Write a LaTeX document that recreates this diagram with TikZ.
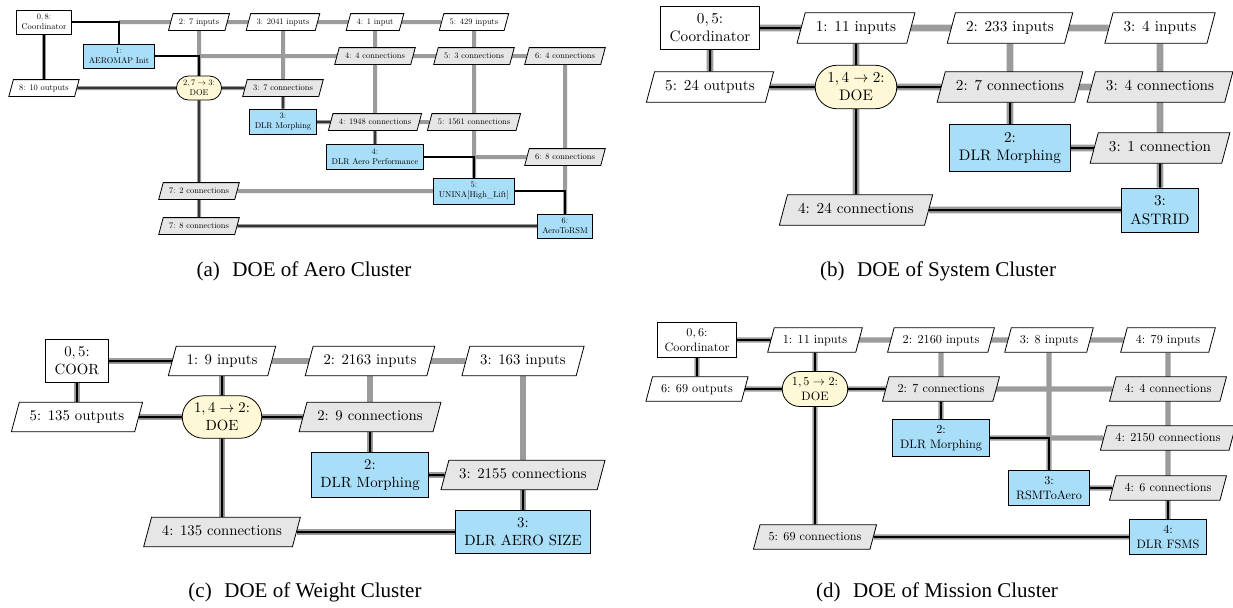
\documentclass[tikz,border=0pt]{standalone}
\usepackage{fontspec}
\setmainfont{lmroman10-regular.otf}[BoldFont=lmroman10-bold.otf, ItalicFont=lmroman10-italic.otf]
\newfontfamily\capfont{Liberation Serif}
\DeclareFontShape{OT1}{cmr}{m}{n}{<->cmr10}{}
\DeclareFontShape{OML}{cmm}{m}{it}{<->cmmi10}{}
\DeclareFontShape{OMS}{cmsy}{m}{n}{<->cmsy10}{}
\usetikzlibrary{shapes.geometric,shapes.misc,backgrounds}
\definecolor{fnblue}{RGB}{168,222,248}
\definecolor{doeyel}{RGB}{255,248,214}
\definecolor{linkgray}{RGB}{230,230,230}
\definecolor{datagray}{RGB}{155,155,155}
\begin{document}
\begin{tikzpicture}[x=0.5pt, y=-0.5pt,
    fnbox/.style={draw, fill=fnblue, align=center, inner xsep=0.6em, inner ysep=0.5em},
    coorbox/.style={draw, fill=white, align=center, inner xsep=0.6em, inner ysep=0.5em},
    doebox/.style={draw, fill=doeyel, align=center, rounded rectangle, inner xsep=0.45em, inner ysep=0.5em},
    iobox/.style={draw, fill=white, trapezium, trapezium left angle=75, trapezium right angle=105,
        inner xsep=0.7em, inner ysep=0.5em, text height=0.75em, text depth=0.25em},
    linkbox/.style={iobox, fill=linkgray},
    grayline/.style={draw=datagray, line width=3pt},
    blackline/.style={draw=black, line width=1pt},
    capnode/.style={font=\capfont\fontsize{10.5}{12}\selectfont}]
\useasboundingbox (0,0) rectangle (1233,607);

\begin{scope}[grayline/.append style={line width=2pt}, blackline/.append style={line width=0.6pt}]
\fontsize{4.2}{5}\selectfont
\node[coorbox] (aCoor) at (44,22) {$0,8$:\\Coordinator};
\node[iobox] (aIn2) at (199,22) {2: 7 inputs};
\node[iobox] (aIn3) at (283,22) {3: 2041 inputs};
\node[iobox] (aIn4) at (375,22) {4: 1 input};
\node[iobox] (aIn5) at (474,22) {5: 429 inputs};
\node[fnbox] (aInit) at (119,56) {1:\\AEROMAP Init};
\node[linkbox] (aC4r1) at (375,56) {4: 4 connections};
\node[linkbox] (aC5r1) at (474,56) {5: 3 connections};
\node[linkbox] (aC6r1) at (565,56) {6: 4 connections};
\node[iobox] (aOut) at (44,88) {8: 10 outputs};
\node[doebox] (aDoe) at (199,88) {$2,7 \to 3$:\\DOE};
\node[linkbox] (aC3r2) at (283,88) {3: 7 connections};
\node[fnbox] (aMorph) at (283,122) {3:\\DLR Morphing};
\node[linkbox] (aC4r3) at (375,122) {4: 1948 connections};
\node[linkbox] (aC5r3) at (474,122) {5: 1561 connections};
\node[fnbox] (aPerf) at (375,157) {4:\\DLR Aero Performance};
\node[linkbox] (aC6r4) at (565,157) {6: 8 connections};
\node[linkbox] (aC7r5) at (199,191) {7: 2 connections};
\node[fnbox] (aHigh) at (474,191) {5:\\UNINA[High\_Lift]};
\node[linkbox] (aC7r6) at (199,226) {7: 8 connections};
\node[fnbox] (aRsm) at (565,226) {6:\\AeroToRSM};
\node[capnode] (aCap) at (304,271) {(a)\hspace{0.6em}DOE of Aero Cluster};
\begin{pgfonlayer}{background}
\draw[grayline] (aInit |- aCoor) -- (aIn5);
\draw[grayline] (aDoe |- aInit) -- (aC6r1);
\draw[grayline] (aCoor) -- (aOut);
\draw[grayline] (aOut) -- (aC3r2);
\draw[grayline] (aMorph) -- (aC5r3);
\draw[grayline] (aHigh |- aPerf) -- (aC6r4);
\draw[grayline] (aC7r5) -- (aHigh);
\draw[grayline] (aC7r6) -- (aRsm);
\draw[grayline] (aIn2) -- (aC7r6);
\draw[grayline] (aIn3) -- (aMorph);
\draw[grayline] (aIn4) -- (aPerf);
\draw[grayline] (aIn5) -- (aHigh);
\draw[grayline] (aC6r1) -- (aRsm);
\draw[blackline] (aCoor) -| (aInit);
\draw[blackline] (aInit) -| (aDoe);
\draw[blackline] (aCoor) -- (aOut);
\draw[blackline] (aOut) -- (aDoe) -- (aC3r2) -- (aMorph);
\draw[blackline] (aMorph) -- (aC4r3) -- (aPerf);
\draw[blackline] (aPerf) -| (aHigh);
\draw[blackline] (aHigh) -| (aRsm);
\draw[blackline] (aDoe) -- (aC7r5) -- (aC7r6) -- (aRsm);
\end{pgfonlayer}
\end{scope}

\begin{scope}[grayline/.append style={line width=3.3pt}, blackline/.append style={line width=1pt}]
\fontsize{7.6}{9.1}\selectfont
\node[coorbox] (bCoor) at (710,28) {$0,5$:\\Coordinator};
\node[iobox] (bIn1) at (856,28) {1: 11 inputs};
\node[iobox] (bIn2) at (1010,28) {2: 233 inputs};
\node[iobox] (bIn3) at (1160,28) {3: 4 inputs};
\node[iobox] (bOut) at (710,87) {5: 24 outputs};
\node[doebox] (bDoe) at (856,87) {$1,4 \to 2$:\\DOE};
\node[linkbox] (bC2r1) at (1010,87) {2: 7 connections};
\node[linkbox] (bC3r1) at (1160,87) {3: 4 connections};
\node[fnbox] (bMorph) at (1010,148) {2:\\DLR Morphing};
\node[linkbox] (bC3r2) at (1160,148) {3: 1 connection};
\node[linkbox] (bC4r3) at (856,210) {4: 24 connections};
\node[fnbox] (bAst) at (1160,210) {3:\\ASTRID};
\node[capnode] (bCap) at (938,271) {(b)\hspace{0.6em}DOE of System Cluster};
\begin{pgfonlayer}{background}
\draw[grayline] (bCoor) -- (bIn3);
\draw[grayline] (bCoor) -- (bOut);
\draw[grayline] (bOut) -- (bC3r1);
\draw[grayline] (bIn1) -- (bC4r3);
\draw[grayline] (bIn2) -- (bMorph);
\draw[grayline] (bIn3) -- (bAst);
\draw[grayline] (bMorph) -- (bC3r2);
\draw[grayline] (bC4r3) -- (bAst);
\draw[blackline] (bCoor) -- (bIn1);
\draw[blackline] (bCoor) -- (bOut);
\draw[blackline] (bOut) -- (bDoe) -- (bC2r1) -- (bMorph);
\draw[blackline] (bIn1) -- (bDoe) -- (bC4r3) -- (bAst);
\draw[blackline] (bMorph) -- (bC3r2) -- (bAst);
\end{pgfonlayer}
\end{scope}

\begin{scope}[grayline/.append style={line width=2.9pt}, blackline/.append style={line width=1pt}]
\fontsize{7.4}{8.9}\selectfont
\node[coorbox] (cCoor) at (77,361) {$0,5$:\\COOR};
\node[iobox] (cIn1) at (222,361) {1: 9 inputs};
\node[iobox] (cIn2) at (370,361) {2: 2163 inputs};
\node[iobox] (cIn3) at (523,361) {3: 163 inputs};
\node[iobox] (cOut) at (77,417) {5: 135 outputs};
\node[doebox] (cDoe) at (222,417) {$1,4 \to 2$:\\DOE};
\node[linkbox] (cC2r1) at (370,417) {2: 9 connections};
\node[fnbox] (cMorph) at (370,475) {2:\\DLR Morphing};
\node[linkbox] (cC3r2) at (523,475) {3: 2155 connections};
\node[linkbox] (cC4r3) at (222,532) {4: 135 connections};
\node[fnbox] (cSize) at (523,532) {3:\\DLR AERO SIZE};
\node[capnode] (cCap) at (305,592) {(c)\hspace{0.6em}DOE of Weight Cluster};
\begin{pgfonlayer}{background}
\draw[grayline] (cCoor) -- (cIn3);
\draw[grayline] (cCoor) -- (cOut);
\draw[grayline] (cOut) -- (cC2r1);
\draw[grayline] (cIn1) -- (cC4r3);
\draw[grayline] (cIn2) -- (cMorph);
\draw[grayline] (cIn3) -- (cSize);
\draw[grayline] (cMorph) -- (cC3r2);
\draw[grayline] (cC4r3) -- (cSize);
\draw[blackline] (cCoor) -- (cIn1);
\draw[blackline] (cCoor) -- (cOut);
\draw[blackline] (cOut) -- (cDoe) -- (cC2r1) -- (cMorph);
\draw[blackline] (cIn1) -- (cDoe) -- (cC4r3) -- (cSize);
\draw[blackline] (cMorph) -- (cC3r2) -- (cSize);
\end{pgfonlayer}
\end{scope}

\begin{scope}[grayline/.append style={line width=2.7pt}, blackline/.append style={line width=0.9pt}]
\fontsize{6.1}{7.3}\selectfont
\node[coorbox] (dCoor) at (697,340) {$0,6$:\\Coordinator};
\node[iobox] (dIn1) at (815,340) {1: 11 inputs};
\node[iobox] (dIn2) at (941,340) {2: 2160 inputs};
\node[iobox] (dIn3) at (1049,340) {3: 8 inputs};
\node[iobox] (dIn4) at (1168,340) {4: 79 inputs};
\node[iobox] (dOut) at (697,389) {6: 69 outputs};
\node[doebox] (dDoe) at (815,389) {$1,5 \to 2$:\\DOE};
\node[linkbox] (dC2r1) at (941,389) {2: 7 connections};
\node[linkbox] (dC4r1) at (1168,389) {4: 4 connections};
\node[fnbox] (dMorph) at (941,438) {2:\\DLR Morphing};
\node[linkbox] (dC4r2) at (1168,438) {4: 2150 connections};
\node[fnbox] (dRsm) at (1049,488) {3:\\RSMToAero};
\node[linkbox] (dC4r3) at (1168,488) {4: 6 connections};
\node[linkbox] (dC5r4) at (815,537) {5: 69 connections};
\node[fnbox] (dFsms) at (1168,537) {4:\\DLR FSMS};
\node[capnode] (dCap) at (937,592) {(d)\hspace{0.6em}DOE of Mission Cluster};
\begin{pgfonlayer}{background}
\draw[grayline] (dCoor) -- (dIn4);
\draw[grayline] (dCoor) -- (dOut);
\draw[grayline] (dOut) -- (dC4r1);
\draw[grayline] (dIn1) -- (dC5r4);
\draw[grayline] (dIn2) -- (dMorph);
\draw[grayline] (dIn3) -- (dRsm);
\draw[grayline] (dIn4) -- (dFsms);
\draw[grayline] (dMorph) -- (dC4r2);
\draw[grayline] (dRsm) -- (dC4r3);
\draw[grayline] (dC5r4) -- (dFsms);
\draw[blackline] (dCoor) -- (dIn1);
\draw[blackline] (dCoor) -- (dOut);
\draw[blackline] (dOut) -- (dDoe) -- (dC2r1) -- (dMorph);
\draw[blackline] (dIn1) -- (dDoe) -- (dC5r4) -- (dFsms);
\draw[blackline] (dMorph) -| (dRsm);
\draw[blackline] (dRsm) -- (dC4r3) -- (dFsms);
\end{pgfonlayer}
\end{scope}
\end{tikzpicture}
\end{document}
